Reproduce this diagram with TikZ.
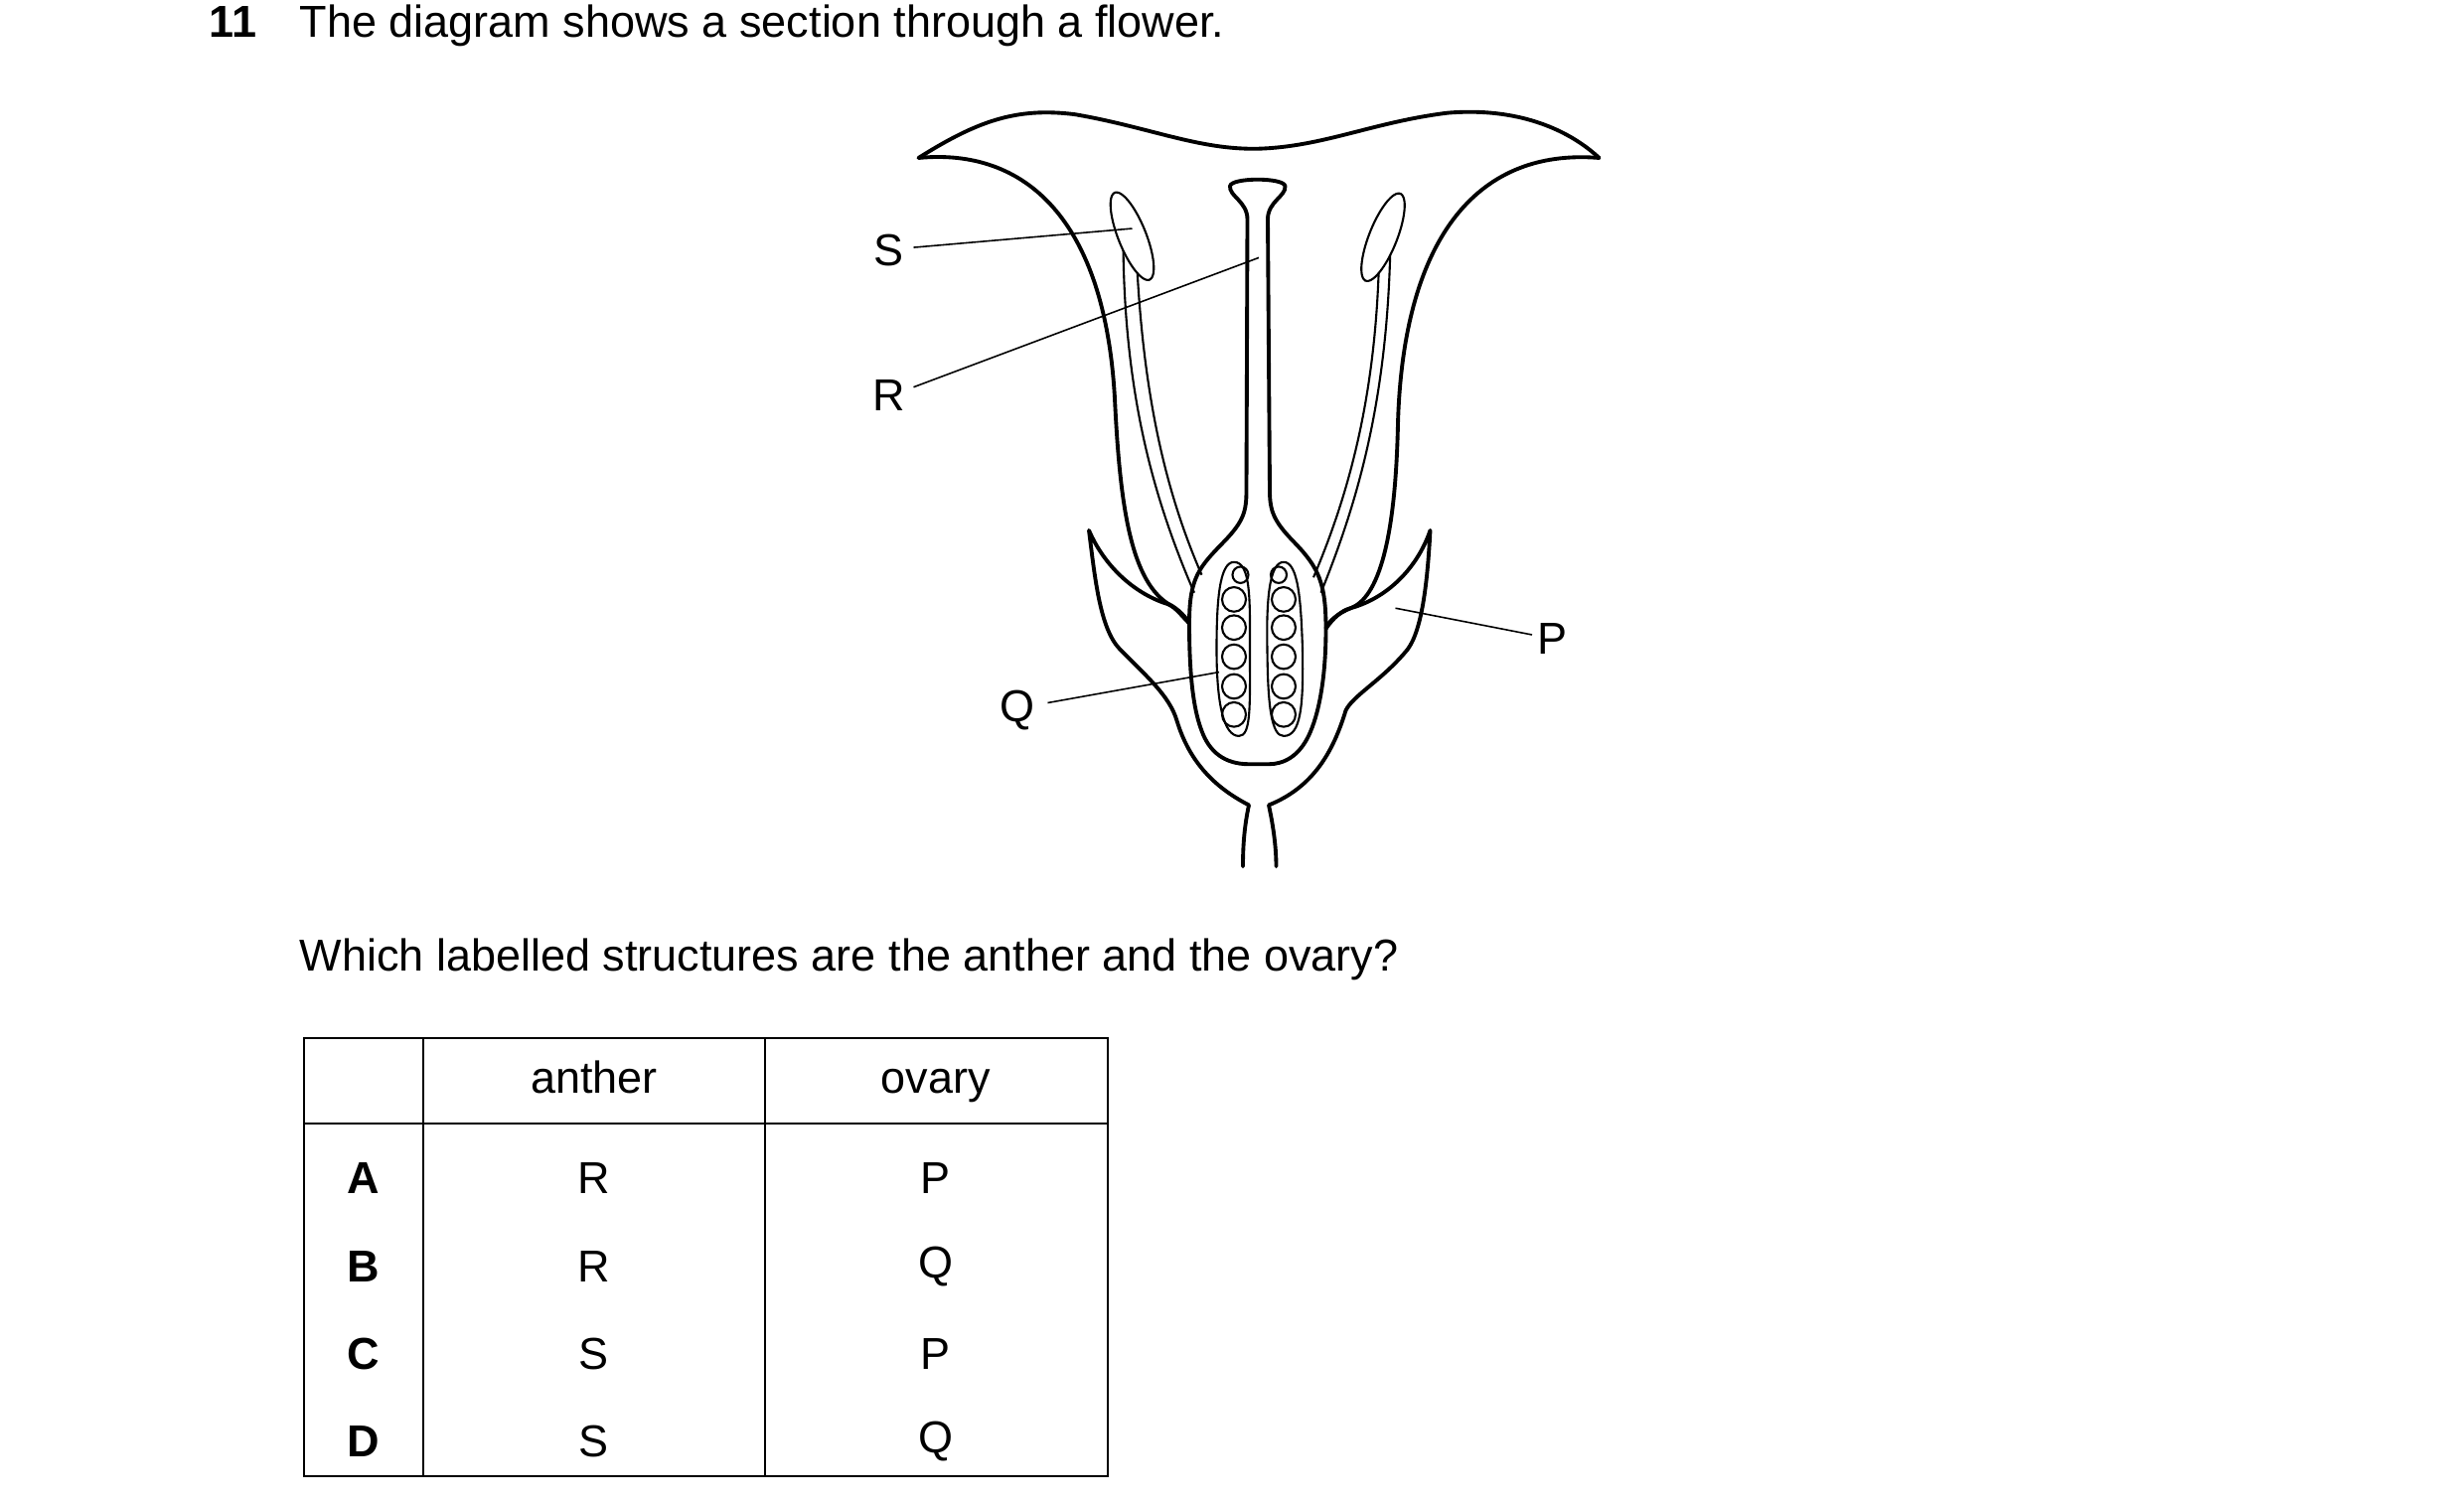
\documentclass[tikz,border=0pt]{standalone}
\usepackage{fontspec}
\setmainfont{Liberation Sans}
\begin{document}
\begin{tikzpicture}[x=0.01cm,y=-0.01cm,
  txt/.style={font=\fontsize{12.8}{15}\selectfont, inner sep=0pt},
  thick outline/.style={line width=1.1pt, line join=round, line cap=round},
  thin/.style={line width=0.6pt},
  lead/.style={line width=0.45pt},
  tab/.style={line width=0.6pt}]
\useasboundingbox (0,0) rectangle (2480,1511);
% title
\node[txt, anchor=base west, font=\fontsize{12.8}{15}\selectfont\bfseries] (num) at (210,37) {11};
\node[txt, anchor=base west] (title) at (301,37) {The diagram shows a section through a flower.};
\node[txt, anchor=base west] (question) at (301,977) {Which labelled structures are the anther and the ovary?};
% flower in zoom coordinates
\begin{scope}[shift={(882,92)}, xscale=0.50, yscale=0.515]
 \draw[thick outline] (85,130) .. controls (200,60) and (280,30) .. (400,45) .. controls (550,70) and (650,115) .. (770,112) .. controls (900,108) and (1000,60) .. (1150,42) .. controls (1300,30) and (1400,80) .. (1455,130);
 \draw[thick outline] (85,130) .. controls (300,110) and (460,250) .. (480,600) .. controls (490,800) and (510,950) .. (585,1000) .. controls (610,1012) and (625,1030) .. (630,1040);
 \draw[thick outline] (1455,130) .. controls (1200,110) and (1060,300) .. (1050,650) .. controls (1045,880) and (1010,990) .. (955,1010) .. controls (930,1020) and (910,1035) .. (905,1050);
 % pistil
 \draw[thick outline] (630,1040) .. controls (630,950) and (650,930) .. (700,880) .. controls (740,840) and (745,820) .. (745,780) -- (747,250) .. controls (747,215) and (710,205) .. (712,185) .. controls (715,168) and (820,168) .. (823,185) .. controls (825,205) and (788,215) .. (788,250) -- (792,780) .. controls (792,820) and (800,840) .. (840,880) .. controls (890,930) and (905,960) .. (905,1050) .. controls (905,1150) and (890,1220) .. (870,1260) .. controls (850,1300) and (820,1315) .. (790,1315) -- (750,1315) .. controls (700,1315) and (670,1290) .. (655,1250) .. controls (635,1200) and (630,1120) .. (630,1040);
 \draw[thin] (720,920) .. controls (690,920) and (685,1000) .. (685,1090) .. controls (685,1200) and (700,1260) .. (730,1260) .. controls (755,1260) and (752,1200) .. (752,1090) .. controls (752,1000) and (755,920) .. (720,920);
 \draw[thin] (820,920) .. controls (790,920) and (785,1000) .. (787,1090) .. controls (788,1200) and (795,1260) .. (820,1260) .. controls (855,1260) and (860,1200) .. (858,1090) .. controls (855,1000) and (850,920) .. (820,920);
 \foreach \y in {993,1048,1105,1163,1218} { \draw[thin] (720,\y) circle (24); \draw[thin] (820,\y) circle (24); }
 \draw[thin] (733,945) circle (16); \draw[thin] (810,945) circle (16);
 % stamens
 \draw[thin] (497,300) .. controls (500,600) and (560,800) .. (640,980);
 \draw[thin] (525,345) .. controls (540,620) and (590,800) .. (655,945);
 \draw[thin] (1035,290) .. controls (1030,600) and (970,800) .. (895,980);
 \draw[thin] (1012,330) .. controls (1005,600) and (950,790) .. (880,950);
 \draw[thin, fill=white] plot[domain=0:360, samples=72, smooth cycle, variable=\t] ({515+35*cos(\t)+25.9*sin(\t)}, {283+85*cos(\t)-10.6*sin(\t)});
 \draw[thin, fill=white] plot[domain=0:360, samples=72, smooth cycle, variable=\t] ({1020-35*cos(\t)+25.9*sin(\t)}, {285+85*cos(\t)+10.6*sin(\t)});
 % sepals and stem
 \draw[thick outline] (630,1040) .. controls (610,1020) and (600,1005) .. (580,1000) .. controls (520,980) and (460,930) .. (428,858) .. controls (440,950) and (450,1050) .. (490,1090) .. controls (540,1140) and (590,1180) .. (605,1230) .. controls (630,1310) and (680,1360) .. (750,1395) .. controls (740,1440) and (738,1480) .. (738,1515);
 \draw[thick outline] (905,1050) .. controls (920,1030) and (935,1015) .. (955,1010) .. controls (1030,990) and (1090,930) .. (1115,858) .. controls (1110,950) and (1100,1050) .. (1070,1090) .. controls (1020,1150) and (960,1180) .. (945,1210) .. controls (920,1290) and (880,1360) .. (790,1395) .. controls (800,1440) and (805,1480) .. (805,1515);
 % labels
 \node[txt] (S) at (25,310) {S};
 \node[txt] (R) at (25,595) {R};
 \node[txt] (Q) at (285,1210) {Q};
 \node[txt] (P) at (1362,1070) {P};
 \coordinate (s) at (515,268); \coordinate (r) at (770,325);
 \coordinate (q) at (690,1135); \coordinate (p) at (1045,1010);
 \coordinate (s0) at (75,305); \draw[lead] (s0) -- (s);
 \coordinate (r0) at (75,578); \draw[lead] (r0) -- (r);
 \coordinate (q0) at (345,1195); \draw[lead] (q0) -- (q);
 \coordinate (p0) at (1320,1062); \draw[lead] (p0) -- (p);
\end{scope}
% table
\draw[tab] (306,1045) rectangle (1115,1486);
\draw[tab] (426,1045) -- (426,1486);
\draw[tab] (770,1045) -- (770,1486);
\draw[tab] (306,1131) -- (1115,1131);
\node[txt, anchor=base] (h1) at (598,1100) {anther};
\node[txt, anchor=base] (h2) at (942,1100) {ovary};
\foreach \l/\a/\o/\y in {A/R/P/1186,B/R/Q/1275,C/S/P/1363,D/S/Q/1451} {
  \node[txt, font=\fontsize{12.8}{15}\selectfont\bfseries] (L\l) at (366,\y) {\l};
  \node[txt] (a\l) at (598,\y) {\a};
  \node[txt] (o\l) at (942,\y) {\o};
}
\end{tikzpicture}
\end{document}
